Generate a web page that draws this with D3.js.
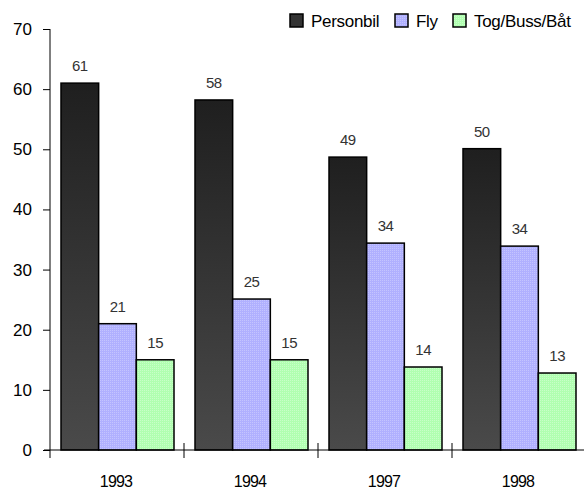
<!DOCTYPE html>
<html><head><meta charset="utf-8">
<script src="https://cdn.jsdelivr.net/npm/d3@7"></script>
<style>body{margin:0;background:#fff}svg{display:block;font-family:"Liberation Sans",Arial,sans-serif}</style>
</head><body><svg id="c" width="584" height="492"></svg>
<script>
const categories = ["1993","1994","1997","1998"];
const seriesNames = ["Personbil","Fly","Tog/Buss/Båt"];
const personbil = [61, 58.2, 48.7, 50.1];
const fly = [21, 25.1, 34.4, 33.9];
const tog = [15, 15, 13.8, 12.8];
const yTicks = [0,10,20,30,40,50,60,70];

const svg = d3.select("#c");
const defs = svg.append("defs");
const g1 = defs.append("linearGradient").attr("id","gPers").attr("x1",0).attr("y1",0).attr("x2",0).attr("y2",1);
g1.append("stop").attr("offset","0%").attr("stop-color","#1f1f1f");
g1.append("stop").attr("offset","100%").attr("stop-color","#4a4a4a");
function pat(id, base, dot){
  const p = defs.append("pattern").attr("id",id).attr("width",2).attr("height",2).attr("patternUnits","userSpaceOnUse");
  p.append("rect").attr("width",2).attr("height",2).attr("fill",base);
  p.append("rect").attr("width",1).attr("height",1).attr("fill",dot);
}
pat("pFly","#b0b0ff","#c4c4ff");
pat("pTog","#b0ffb0","#c8ffc8");
const fills = ["url(#gPers)","url(#pFly)","url(#pTog)"];

const y = d3.scaleLinear().domain([0,70]).range([450,29]);
const x0 = d3.scaleBand().domain(categories).range([50,586]).paddingInner(0).paddingOuter(0);
const x1 = d3.scaleBand().domain(seriesNames).range([11,124]);

const data = [personbil, fly, tog];

// y axis
const yAxis = svg.append("g").attr("transform","translate(50,0)")
  .call(d3.axisLeft(y).tickValues(yTicks).tickSize(7).tickPadding(11).tickFormat(d3.format("d")));
yAxis.select(".domain").attr("d","M0,29V458").attr("stroke","#000");
yAxis.selectAll(".tick line").attr("stroke","#000");
yAxis.selectAll(".tick text").attr("font-size",17).attr("fill","#000");

// bars
const groups = svg.append("g").selectAll("g").data(categories).join("g")
  .attr("transform", d => `translate(${x0(d)},0)`);
groups.each(function(cat, ci){
  const gg = d3.select(this);
  seriesNames.forEach((s, si) => {
    const v = data[si][ci];
    gg.append("rect").attr("x", x1(s)).attr("y", y(v)).attr("width", x1.bandwidth()).attr("height", y(0)-y(v))
      .attr("fill", fills[si]).attr("stroke","#000").attr("stroke-width",1.5);
    gg.append("text").attr("x", x1(s)+x1.bandwidth()/2).attr("y", y(v)-12)
      .attr("text-anchor","middle").attr("font-size",15).attr("fill","#333").attr("letter-spacing","-0.5")
      .text(d3.format(".0f")(v));
  });
});

// x axis
const xa = svg.append("g");
xa.append("line").attr("x1",44).attr("x2",584).attr("y1",450).attr("y2",450).attr("stroke","#000");
xa.selectAll("line.t").data(categories.slice(1)).join("line").attr("class","t")
  .attr("x1", d => x0(d)).attr("x2", d => x0(d)).attr("y1",443).attr("y2",458).attr("stroke","#000");
xa.selectAll("text").data(categories).join("text")
  .attr("x", d => x0(d)+x0.bandwidth()/2 - 1).attr("y",487).attr("text-anchor","middle")
  .attr("font-size",16).attr("fill","#000").attr("letter-spacing","-0.8").text(d => d);

// legend
const legX = [290, 395, 453];
const lg = svg.append("g");
seriesNames.forEach((s,i) => {
  lg.append("rect").attr("x",legX[i]).attr("y",14).attr("width",13).attr("height",13)
    .attr("fill", i===0 ? "#333" : fills[i]).attr("stroke","#000").attr("stroke-width",1.5);
  lg.append("text").attr("x",legX[i]+21).attr("y",27).attr("font-size",17).attr("fill","#000")
    .attr("letter-spacing","-0.3").text(s);
});
</script></body></html>
